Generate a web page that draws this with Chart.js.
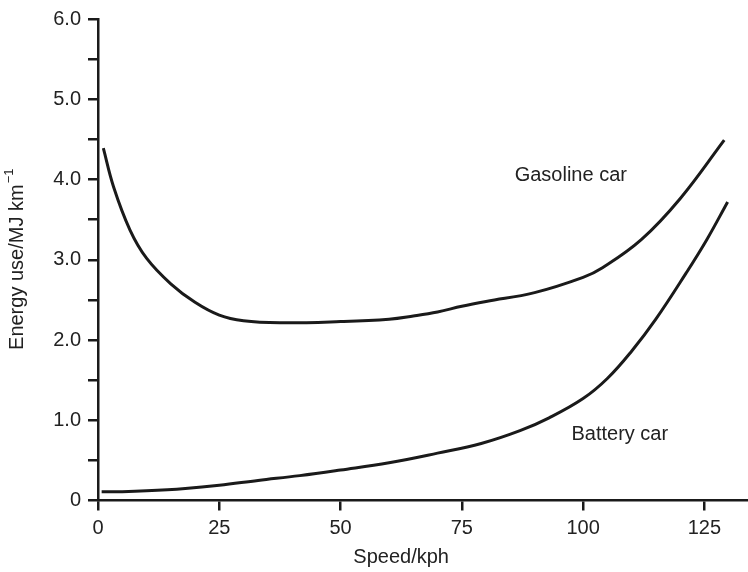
<!DOCTYPE html>
<html>
<head>
<meta charset="utf-8">
<script src="https://cdn.jsdelivr.net/npm/chart.js@4.4.1/dist/chart.umd.min.js"></script>
<style>
  html, body { margin: 0; padding: 0; background: #fff; }
  canvas { display: block; }
</style>
</head>
<body>
<canvas id="chart" width="748" height="572"></canvas>
<script>
// speed (kph) vs energy use (MJ/km)
const gasSpeed = [1.1, 3.2, 6.6, 10, 15, 20, 25, 30, 37.5, 50, 60, 65, 70, 75, 80, 90, 100, 104, 112, 120, 129.1];
const gasEnergy = [4.39, 3.91, 3.37, 3.02, 2.7, 2.47, 2.31, 2.24, 2.215, 2.23, 2.26, 2.3, 2.35, 2.42, 2.48, 2.59, 2.78, 2.9, 3.25, 3.76, 4.49];
const batSpeed = [0.75, 5, 10, 18, 25, 33, 41.6, 50, 60, 70, 79, 87, 93, 100, 105, 110, 115, 121.2, 125.5, 129.8];
const batEnergy = [0.11, 0.11, 0.12, 0.15, 0.19, 0.25, 0.31, 0.38, 0.47, 0.59, 0.71, 0.87, 1.03, 1.27, 1.52, 1.86, 2.26, 2.83, 3.25, 3.72];

const xTicks = [0, 25, 50, 75, 100, 125];
const curveLabels = ["Gasoline car", "Battery car"];
const labelSpeed = [85.9, 97.6];
const labelEnergy = [4.05, 0.82];

const FONT = "Liberation Sans, Arial, Helvetica, sans-serif";
const INK = "#1a1a1a";

function toPoints(xs, ys) {
    return xs.map((x, i) => ({ x: x, y: ys[i] }));
}

// curve labels + axis titles (y title has a superscript)
const textPlugin = {
    id: "texts",
    afterDraw(chart) {
        const ctx = chart.ctx;
        const xs = chart.scales.x;
        const ys = chart.scales.y;
        ctx.save();
        ctx.fillStyle = "#222";
        ctx.font = "20px " + FONT;
        ctx.textBaseline = "middle";
        ctx.textAlign = "left";
        for (let i = 0; i < curveLabels.length; i++) {
            ctx.fillText(curveLabels[i], xs.getPixelForValue(labelSpeed[i]), ys.getPixelForValue(labelEnergy[i]));
        }

        // x title, centred under 0..125
        ctx.textAlign = "center";
        ctx.fillText("Speed/kph", (xs.getPixelForValue(0) + xs.getPixelForValue(125)) / 2, 557);

        // y title rotated
        const main = "Energy use/MJ km";
        const sup = "\u22121";
        ctx.translate(17, (chart.chartArea.top + chart.chartArea.bottom) / 2);
        ctx.rotate(-Math.PI / 2);
        ctx.font = "20px " + FONT;
        const wMain = ctx.measureText(main).width;
        ctx.font = "13px " + FONT;
        const wSup = ctx.measureText(sup).width;
        const start = -(wMain + wSup) / 2;
        ctx.textAlign = "left";
        ctx.font = "20px " + FONT;
        ctx.fillText(main, start, 0);
        ctx.font = "13px " + FONT;
        ctx.fillText(sup, start + wMain + 1, -8);
        ctx.restore();
    }
};

new Chart(document.getElementById("chart"), {
    type: "line",
    data: {
        datasets: [
            {
                label: "Gasoline car",
                data: toPoints(gasSpeed, gasEnergy),
                borderColor: INK,
                borderWidth: 3,
                pointRadius: 0,
                tension: 0.4,
                fill: false,
            },
            {
                label: "Battery car",
                data: toPoints(batSpeed, batEnergy),
                borderColor: INK,
                borderWidth: 3,
                pointRadius: 0,
                tension: 0.4,
                fill: false,
            },
        ],
    },
    options: {
        responsive: false,
        animation: false,
        layout: { padding: { top: 19, right: 0, left: 0, bottom: 0 } },
        plugins: {
            legend: { display: false },
            tooltip: { enabled: false },
        },
        scales: {
            x: {
                type: "linear",
                min: 0,
                max: 134,
                afterBuildTicks: (scale) => {
                    scale.ticks = xTicks.map((v) => ({ value: v }));
                },
                afterFit: (scale) => {
                    scale.height = 71.5;
                },
                ticks: {
                    color: "#222",
                    font: { family: FONT, size: 20 },
                    padding: 6,
                    maxRotation: 0,
                    autoSkip: false,
                },
                grid: {
                    drawOnChartArea: false,
                    drawTicks: true,
                    tickLength: 10,
                    color: INK,
                    lineWidth: 2.5,
                },
                border: { color: INK, width: 2.5 },
            },
            y: {
                type: "linear",
                min: 0,
                max: 6,
                afterFit: (scale) => {
                    scale.width = 98;
                },
                ticks: {
                    stepSize: 0.5,
                    autoSkip: false,
                    color: "#222",
                    font: { family: FONT, size: 20 },
                    padding: 7,
                    callback: (v) => (v === 0 ? "0" : Number.isInteger(v) ? v.toFixed(1) : ""),
                },
                grid: {
                    drawOnChartArea: false,
                    drawTicks: true,
                    tickLength: 10,
                    color: INK,
                    lineWidth: 2.5,
                },
                border: { color: INK, width: 2.5 },
            },
        },
    },
    plugins: [textPlugin],
});
</script>
</body>
</html>
